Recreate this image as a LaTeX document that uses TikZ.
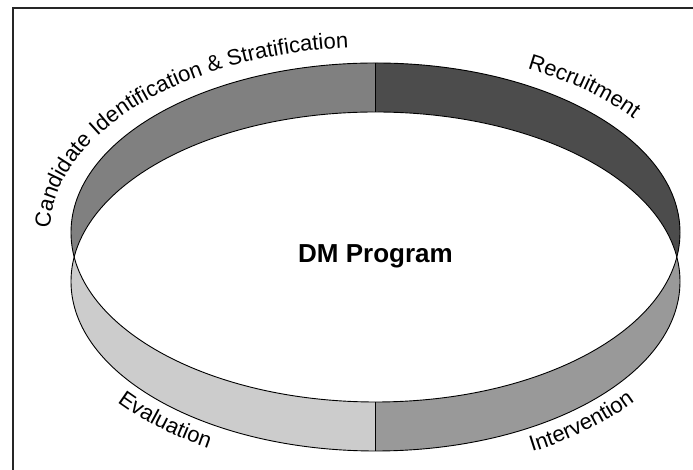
\documentclass[tikz,border=0pt]{standalone}
\usepackage{fontspec}
\setmainfont{Liberation Sans}
\usetikzlibrary{calc,decorations.text}

\definecolor{topL}{gray}{0.5}
\definecolor{topR}{gray}{0.3}
\definecolor{botL}{gray}{0.8}
\definecolor{botR}{gray}{0.6}

\begin{document}
\begin{tikzpicture}[x=1pt,y=1pt,
  ring/.style={x radius=304.5,y radius=169.5},
  lbl/.style={decorate,decoration={text along path,text align=center,
    text format delimiters={|}{|},
    text={|\fontsize{22}{26}\selectfont|#1}}}]
\useasboundingbox (0,0) rectangle (693,470);
\draw[line width=1.5,black!85] (13,0) -- (13,462) -- (693,462);

\coordinate (U) at (375.5,237.5);
\coordinate (L) at (375.5,188.5);

\coordinate (T1) at (375.5,407);
\coordinate (T2) at (375.5,358);
\coordinate (B1) at (375.5,68);
\coordinate (B2) at (375.5,19);

% lower band
\begin{scope}
\clip (0,0) rectangle (375.5,470);
\fill[botL] (L) ellipse [ring];
\end{scope}
\begin{scope}
\clip (375.5,0) rectangle (693,470);
\fill[botR] (L) ellipse [ring];
\end{scope}

% upper band
\begin{scope}
\clip (0,0) rectangle (375.5,470);
\fill[topL] (U) ellipse [ring];
\end{scope}
\begin{scope}
\clip (375.5,0) rectangle (693,470);
\fill[topR] (U) ellipse [ring];
\end{scope}

% inside
\begin{scope}
\clip (U) ellipse [ring];
\fill[white] (L) ellipse [ring];
\end{scope}

\draw[line width=0.9] (U) ellipse [ring];
\draw[line width=0.9] (L) ellipse [ring];
\draw[line width=0.9] (T1) -- (T2);
\draw[line width=0.9] (B1) -- (B2);

\node[anchor=base,font=\bfseries\fontsize{26}{31}\selectfont] (DM) at (375.5,207) {DM Program};

\path[lbl={Candidate Identification {\&} Stratification}]
  ($(U)+(184.5:325.5 and 185.5)$) arc [start angle=184.5,end angle=91.5,x radius=325.5,y radius=185.5];
\path[lbl={Recruitment}]
  ($(U)+(69:326.5 and 185.5)$) arc [start angle=69,end angle=29,x radius=326.5,y radius=185.5];
\path[lbl={Evaluation}]
  ($(L)+(208:330.5 and 193.5)$) arc [start angle=208,end angle=248,x radius=330.5,y radius=193.5];
\path[lbl={Intervention}]
  ($(L)+(291:330.5 and 193.5)$) arc [start angle=291,end angle=331,x radius=330.5,y radius=193.5];
\end{tikzpicture}
\end{document}
